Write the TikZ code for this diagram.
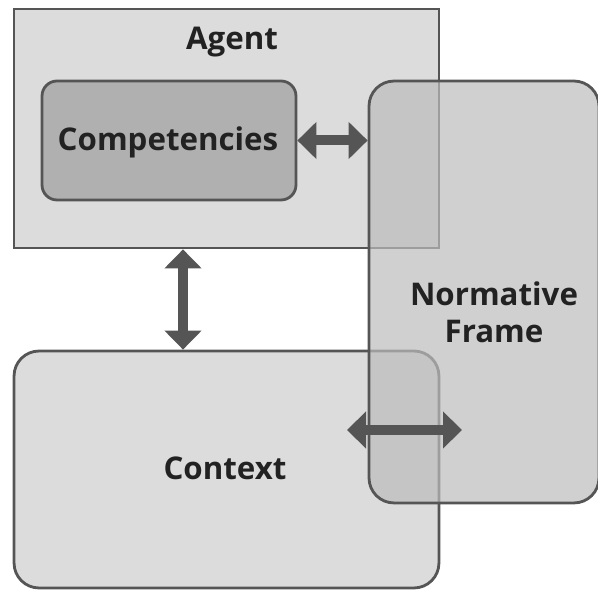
\documentclass[tikz,border=0pt]{standalone}
\usepackage{fontspec}
\setmainfont{Open Sans}
\usepackage{xcolor}
\usepackage{tikz}
\usetikzlibrary{arrows.meta,positioning}
\definecolor{edgegray}{HTML}{555555}
\definecolor{agentgray}{HTML}{DCDCDC}
\definecolor{compgray}{HTML}{B0B0B0}
\definecolor{framegray}{HTML}{BCBCBC}
\definecolor{txtgray}{HTML}{222222}

\begin{document}
\begin{tikzpicture}[x=0.02cm, y=-0.02cm,
                          box/.style={draw=edgegray, line width=1.6pt, inner sep=0pt},
                          label/.style={font=\bfseries\fontsize{17.8}{21}\selectfont, text=txtgray, align=center},
                          dblarrow/.style={draw=edgegray, line width=0.2cm,
                                           {Triangle[width=0.72cm,length=0.38cm]}-{Triangle[width=0.72cm,length=0.38cm]}},
                         ]

\useasboundingbox (0,0) rectangle (598,590);

% boxes
\node[box, fill=agentgray, minimum width=8.5cm, minimum height=4.78cm] (agent) at (226.5,128.5) {};
\node[box, fill=compgray, rounded corners=0.3cm, minimum width=5.08cm, minimum height=2.38cm] (comp) at (169,140.5) {};
\node[box, fill=agentgray, rounded corners=0.5cm, minimum width=8.5cm, minimum height=4.74cm] (context) at (226.5,469.5) {};
\node[box, fill=framegray, fill opacity=.7, rounded corners=0.5cm, minimum width=4.6cm, minimum height=8.44cm] (frame) at (484,292) {};

% texts
\node[label] (agentlabel) at (232,42) {Agent};
\node[label] (complabel) at (168,142) {Competencies};
\node[label] (framelabel) at (494,312) {Normative\\Frame};
\node[label] (contextlabel) at (225,468) {Context};

% arrows
\coordinate (ctxend) at (347,430);
\coordinate (frmend) at (462,430);

\draw[dblarrow] (comp.east) -- (frame.west |- comp.east);
\draw[dblarrow] ([xshift=-0.87cm]agent.south) -- ([xshift=-0.87cm]context.north);
\draw[dblarrow] (ctxend) -- (frmend);

\end{tikzpicture}
\end{document}
